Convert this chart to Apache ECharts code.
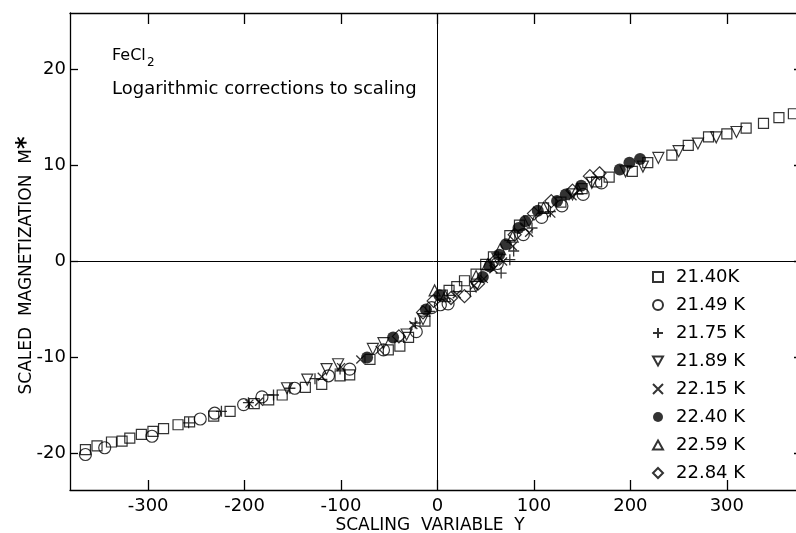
<!DOCTYPE html>
<html>
<head>
<meta charset="utf-8">
<script src="https://cdn.jsdelivr.net/npm/echarts@6/dist/echarts.min.js"></script>
<style>
  html, body { margin: 0; padding: 0; background: #fff; }
  #chart { width: 796px; height: 533px; }
</style>
</head>
<body>
<div id="chart"></div>
<script>
// tick positions
const xTicks = [-300, -200, -100, 0, 100, 200, 300]
const yTicks = [-20, -10, 0, 10, 20]

// scaled data [Y, M*] per temperature
const t2140 = [[-365, -19.6], [-353, -19.2], [-338, -18.8], [-327, -18.7], [-319, -18.4], [-307, -18.0], [-295, -17.7], [-284, -17.4], [-269, -17.0], [-257, -16.7], [-232, -16.1], [-215, -15.6], [-190, -14.8], [-175, -14.4], [-161, -13.9], [-137, -13.1], [-120, -12.8], [-101, -11.9], [-91, -11.8], [-70, -10.2], [-51, -9.2], [-39, -8.8], [-30, -7.9], [-13, -6.2], [5, -3.5], [12, -3.0], [20, -2.6], [28, -2.0], [40, -1.3], [50, -0.3], [58, 0.5], [75, 2.7], [85, 3.8], [110, 5.6], [128, 6.2], [150, 7.6], [165, 8.3], [178, 8.8], [202, 9.4], [218, 10.3], [243, 11.1], [260, 12.1], [281, 13.0], [300, 13.3], [320, 13.9], [338, 14.4], [354, 15.0], [369, 15.4]]
const t2149 = [[-365, -20.1], [-345, -19.4], [-296, -18.2], [-246, -16.4], [-231, -15.8], [-201, -14.9], [-182, -14.1], [-148, -13.2], [-113, -11.9], [-91, -11.2], [-56, -9.2], [-22, -7.3], [-6, -4.8], [3, -4.5], [11, -4.4], [62, -0.2], [89, 2.8], [108, 4.6], [129, 5.8], [151, 7.0], [170, 8.2]]
const t2175 = [[-258, -16.8], [-224, -15.6], [-196, -14.7], [-170, -13.9], [-153, -13.2], [-127, -12.2], [-101, -11.2], [-23, -6.4], [-8, -5.2], [34, -3.1], [66, -1.2], [75, 0.2], [79, 1.1], [98, 3.5], [117, 5.2]]
const t2189 = [[-156, -13.2], [-135, -12.3], [-115, -11.2], [-103, -10.7], [-67, -9.1], [-56, -8.5], [-32, -7.6], [-15, -6.0], [40, -2.6], [62, 0.3], [95, 4.2], [140, 7.0], [160, 8.2], [195, 9.4], [213, 9.9], [229, 10.8], [250, 11.5], [270, 12.3], [289, 12.95], [310, 13.5]]
const t2215 = [[-195, -14.8], [-185, -14.6], [-120, -12.0], [-100, -11.0], [-80, -10.2], [-60, -9.2], [-25, -6.6], [20, -3.4], [38, -2.5], [48, -1.8], [58, -0.8], [68, 0.0], [78, 1.6], [95, 3.0], [118, 5.0], [140, 6.8]]
const t2240 = [[-73, -10.0], [-46, -7.9], [-12, -5.0], [2, -3.5], [47, -1.6], [54, -0.5], [64, 0.7], [71, 1.8], [84, 3.5], [91, 4.2], [104, 5.3], [124, 6.3], [133, 7.0], [149, 7.9], [189, 9.6], [199, 10.3], [210, 10.7]]
const t2259 = [[-3, -3.0], [8, -3.6], [40, -1.5], [52, -0.3], [65, 1.3], [78, 2.6], [110, 5.6], [145, 7.6]]
const t2284 = [[-40, -7.8], [-15, -5.3], [-4, -4.1], [14, -3.8], [28, -3.6], [42, -2.3], [60, 0.1], [80, 2.8], [100, 5.0], [118, 6.3], [140, 7.4], [158, 8.9], [168, 9.2]]

const names = ['21.40K', '21.49 K', '21.75 K', '21.89 K', '22.15 K', '22.40 K', '22.59 K', '22.84 K']

const FONT = 'DejaVu Sans'
const chart = echarts.init(document.getElementById('chart'))

const open = { color: 'rgba(0,0,0,0)', borderColor: '#000', borderWidth: 1.2 }
const sym = {
  plus: 'path://M5,0L5,10M0,5L10,5',
  cross: 'path://M0,0L10,10M10,0L0,10',
  down: 'path://M0,0L10,0L5,9Z',
  up: 'path://M5,0L10,9L0,9Z'
}

function mk(name, data, symbol, size, style) {
  return {
    name,
    type: 'scatter',
    data,
    symbol,
    symbolSize: size,
    itemStyle: style,
    emphasis: { disabled: true }
  }
}

const series = [
  mk(names[0], t2140, 'rect', 10, open),
  mk(names[1], t2149, 'circle', 12, open),
  mk(names[2], t2175, sym.plus, 11, { color: 'rgba(0,0,0,0)', borderColor: '#000', borderWidth: 1.3 }),
  mk(names[3], t2189, sym.down, 11, open),
  mk(names[4], t2215, sym.cross, 8, { color: 'rgba(0,0,0,0)', borderColor: '#000', borderWidth: 1.3 }),
  mk(names[5], t2240, 'circle', 12, { color: '#000' }),
  mk(names[6], t2259, sym.up, 11, open),
  mk(names[7], t2284, 'diamond', 13, open)
]

// the two zero lines crossing the frame
series[0].markLine = {
  silent: true,
  symbol: ['none', 'none'],
  label: { show: false },
  lineStyle: { color: '#000', width: 1, type: 'solid' },
  data: [{ xAxis: 0 }, { yAxis: 0 }]
}

const axisCommon = {
  axisLine: { show: true, onZero: false, lineStyle: { color: '#000', width: 1.3 } },
  splitLine: { show: false }
}

const option = {
  animation: false,
  backgroundColor: '#fff',
  textStyle: { fontFamily: FONT, color: '#000' },
  grid: { left: 70, top: 13, width: 734, height: 477, containLabel: false, outerBoundsMode: 'none' },
  graphic: [
    { type: 'text', left: 112, top: 48, style: { text: 'FeCl', font: '16px "DejaVu Sans"', fill: '#000' } },
    { type: 'text', left: 147, top: 57, style: { text: '2', font: '12px "DejaVu Sans"', fill: '#000' } },
    { type: 'text', left: 112, top: 80, style: { text: 'Logarithmic corrections to scaling', font: '18px "DejaVu Sans"', fill: '#000' } }
  ],
  legend: {
    orient: 'vertical',
    left: 647,
    top: 262,
    itemWidth: 10,
    itemHeight: 10,
    itemGap: 8,
    selectedMode: false,
    textStyle: { fontFamily: FONT, fontSize: 18, color: '#000', lineHeight: 20, padding: [0, 0, 0, 8] },
    data: names
  },
  xAxis: [
    {
      ...axisCommon,
      type: 'value',
      min: -381,
      max: 380,
      name: 'SCALING  VARIABLE  Y',
      nameLocation: 'middle',
      nameGap: 27,
      nameMoveOverlap: false,
      nameTextStyle: { fontFamily: FONT, fontSize: 17, color: '#000', padding: [0, 14, 0, 0] },
      axisTick: { inside: true, length: 10, customValues: xTicks, lineStyle: { color: '#000', width: 1.3 } },
      axisLabel: { customValues: xTicks, margin: 7, fontFamily: FONT, fontSize: 18, color: '#000' }
    },
    {
      ...axisCommon,
      type: 'value',
      position: 'top',
      min: -381,
      max: 380,
      axisTick: { inside: true, length: 11, customValues: xTicks, lineStyle: { color: '#000', width: 1.3 } },
      axisLabel: { show: false }
    }
  ],
  yAxis: [
    {
      ...axisCommon,
      type: 'value',
      min: -23.8,
      max: 25.9,
      name: 'SCALED  MAGNETIZATION  M{a|*}',
      nameLocation: 'middle',
      nameGap: 31,
      nameMoveOverlap: false,
      nameTextStyle: {
        fontFamily: FONT, fontSize: 17, color: '#000', padding: [0, 28, 0, 0],
        rich: { a: { fontFamily: FONT, fontSize: 24, fontWeight: 'bold', color: '#000' } }
      },
      axisTick: { inside: true, length: 8, customValues: yTicks, lineStyle: { color: '#000', width: 1.3 } },
      axisLabel: { customValues: yTicks, margin: 4, fontFamily: FONT, fontSize: 18, color: '#000' }
    },
    {
      ...axisCommon,
      type: 'value',
      position: 'right',
      min: -23.8,
      max: 25.9,
      axisTick: { inside: true, length: 10, customValues: yTicks, lineStyle: { color: '#000', width: 1.3 } },
      axisLabel: { show: false }
    }
  ],
  series
}

chart.setOption(option)
</script>
</body>
</html>
